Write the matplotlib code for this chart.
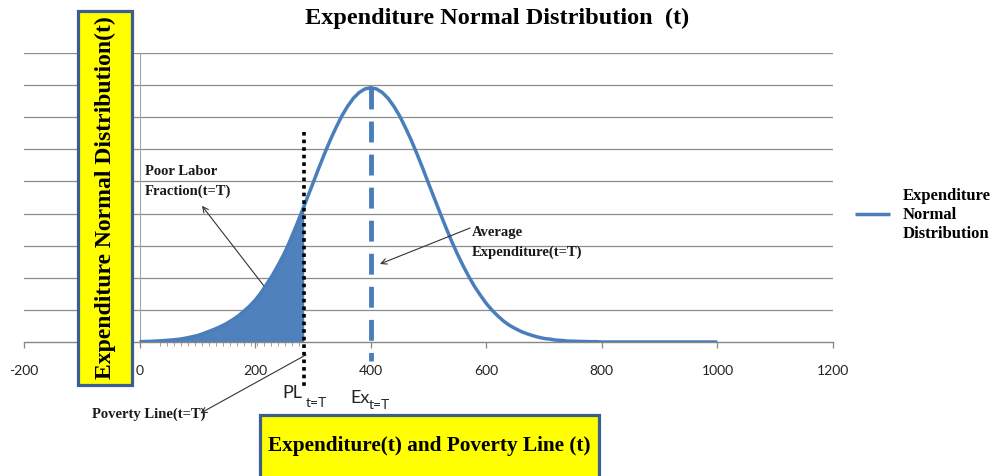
import numpy as np
import matplotlib
matplotlib.use('Agg')
import matplotlib.pyplot as plt
from matplotlib.patches import Rectangle
from matplotlib.ticker import FixedLocator

plt.rcParams['axes.unicode_minus'] = False

# values (y in gridline units)
expenditure = np.arange(0, 1001, 10)
density = [0.01, 0.015, 0.02, 0.03, 0.04, 0.055, 0.07, 0.09, 0.12, 0.16,
           0.20, 0.26, 0.33, 0.40, 0.48, 0.57, 0.68, 0.80, 0.95, 1.11,
           1.30, 1.53, 1.80, 2.08, 2.40, 2.74, 3.14, 3.57, 4.02, 4.48,
           4.94, 5.41, 5.86, 6.29, 6.68, 7.04, 7.34, 7.59, 7.77, 7.88,
           7.92, 7.88, 7.77, 7.59, 7.34, 7.04, 6.68, 6.29, 5.86, 5.41,
           4.94, 4.48, 4.02, 3.57, 3.14, 2.74, 2.37, 2.03, 1.72, 1.45,
           1.20, 0.99, 0.81, 0.65, 0.52, 0.42, 0.33, 0.26, 0.20, 0.15,
           0.11, 0.09, 0.06, 0.05, 0.03, 0.025, 0.02, 0.015, 0.01, 0.01,
           0.0, 0.0, 0.0, 0.0, 0.0, 0.0, 0.0, 0.0, 0.0, 0.0,
           0.0, 0.0, 0.0, 0.0, 0.0, 0.0, 0.0, 0.0, 0.0, 0.0, 0.0]
poverty_line = 284
mean_exp = 400
fill_start = 33
x_ticks = [-200, 0, 200, 400, 600, 800, 1000, 1200]

blue = '#4A7EBB'
fill_blue = '#4F81BD'
border = '#3B5E91'
serif = 'Liberation Serif'
sans = 'Lato'

W, H = 995, 477
def fx(px):
    return px / W
def fy(py):
    return 1 - py / H

fig = plt.figure(figsize=(W / 100, H / 100), dpi=100)
ax = fig.add_axes([fx(24), fy(343), (833 - 24) / W, (343 - 54) / H])

x = np.asarray(expenditure, dtype=float)
y = np.asarray(density)

ax.set_xlim(-200, 1200)
ax.set_ylim(0, 9)
ax.set_yticks(range(1, 10))
ax.yaxis.grid(True, color='#8c8c8c', lw=0.9)
ax.set_axisbelow(True)
ax.tick_params(axis='y', left=False, labelleft=False)
for s in ['left', 'right', 'top']:
    ax.spines[s].set_visible(False)
ax.spines['bottom'].set_color('#868686')
ax.spines['bottom'].set_linewidth(1.0)

ax.set_xticks(x_ticks)
ax.xaxis.set_minor_locator(FixedLocator(np.arange(36, poverty_line, 12)))
ax.tick_params(axis='x', which='major', length=4, width=0.9, color='#868686',
               pad=12, labelsize=10, labelcolor='#222222')
ax.tick_params(axis='x', which='minor', length=3, width=0.7, color='#a0a0a0')
for lab in ax.get_xticklabels():
    lab.set_family(sans)

# y axis at zero
ax.axvline(0, color='#a6a6a6', lw=0.8, zorder=1)

# shaded poor fraction
mask = (x >= fill_start) & (x <= poverty_line)
xf = np.concatenate([[fill_start], x[mask], [poverty_line]])
yf = np.concatenate([[np.interp(fill_start, x, y)], y[mask], [np.interp(poverty_line, x, y)]])
ax.fill_between(xf, 0, yf, color=fill_blue, lw=0, zorder=2)

line, = ax.plot(x, y, color=blue, lw=2.5, zorder=3, solid_capstyle='butt',
                solid_joinstyle='round')

# poverty line and mean
ax.plot([poverty_line, poverty_line], [6.55, -1.46], color='black', lw=2.6,
        linestyle=(0, (1, 1.1)), clip_on=False, zorder=4)
ax.plot([mean_exp, mean_exp], [max(density), -0.6], color=blue, lw=3.5,
        linestyle=(0, (4.3, 2.5)), clip_on=False, zorder=4)

# labels under the axis
ax.text(poverty_line - 2, -1.56, 'PL', ha='right', va='center', fontsize=13,
        family=sans, color='#222222', clip_on=False)
ax.text(poverty_line + 4, -1.86, 't=T', ha='left', va='center', fontsize=10,
        family=sans, color='#222222', clip_on=False)
ax.text(mean_exp - 36, -1.72, 'Ex', ha='left', va='center', fontsize=13,
        family=sans, color='#222222', clip_on=False)
ax.text(mean_exp - 4, -1.92, 't=T', ha='left', va='center', fontsize=10,
        family=sans, color='#222222', clip_on=False)

# annotations
ax.text(9, 5.04, 'Poor Labor\nFraction(t=T)', ha='left', va='center', fontsize=10.5,
        family=serif, weight='bold', linespacing=1.65, color='#1a1a1a')
ax.annotate('', xy=(108, 4.24), xytext=(215, 1.75),
            arrowprops=dict(arrowstyle='->', color='#333333', lw=0.8,
                            shrinkA=0, shrinkB=0))
ax.text(575, 3.13, 'Average\nExpenditure(t=T)', ha='left', va='center', fontsize=10.5,
        family=serif, weight='bold', linespacing=1.65, color='#1a1a1a')
ax.annotate('', xy=(416, 2.43), xytext=(572, 3.55),
            arrowprops=dict(arrowstyle='->', color='#333333', lw=0.8,
                            shrinkA=0, shrinkB=0))
ax.text(-82, -2.21, 'Poverty Line(t=T)', ha='left', va='center', fontsize=10.5,
        family=serif, weight='bold', color='#1a1a1a', clip_on=False)
ax.annotate('', xy=(105, -2.22), xytext=(288, -0.4), annotation_clip=False,
            arrowprops=dict(arrowstyle='->', color='#333333', lw=0.8,
                            shrinkA=0, shrinkB=0))

# legend
leg = ax.legend([line], ['Expenditure\nNormal\nDistribution'], loc='center left',
                bbox_to_anchor=(fx(855), fy(215)), bbox_transform=fig.transFigure,
                frameon=False, borderpad=0, borderaxespad=0, handlelength=2.1,
                handletextpad=0.75, prop=dict(family=serif, weight='bold', size=12))
for t in leg.get_texts():
    t.set_linespacing(1.25)

# title
fig.text(fx(497), fy(18), 'Expenditure Normal Distribution  (t)', ha='center', va='center',
         fontsize=17.5, family=serif, weight='bold')

# yellow boxes with axis titles
fig.add_artist(Rectangle((fx(77.5), fy(385.5)), (131.5 - 77.5) / W, (385.5 - 11.5) / H,
                         transform=fig.transFigure, facecolor='#FFFF00',
                         edgecolor=border, lw=2.3, zorder=5))
fig.text(fx(105), fy(198), 'Expenditure Normal Distribution(t)', rotation=90,
         ha='center', va='center', fontsize=17, family=serif, weight='bold', zorder=6)
fig.add_artist(Rectangle((fx(259.5), fy(490)), (598.5 - 259.5) / W, (490 - 416.5) / H,
                         transform=fig.transFigure, facecolor='#FFFF00',
                         edgecolor=border, lw=2.3, zorder=5, clip_on=False))
fig.text(fx(429), fy(446), 'Expenditure(t) and Poverty Line (t)', ha='center', va='center',
         fontsize=15.3, family=serif, weight='bold', zorder=6)

fig.savefig('out.png', dpi=100)
